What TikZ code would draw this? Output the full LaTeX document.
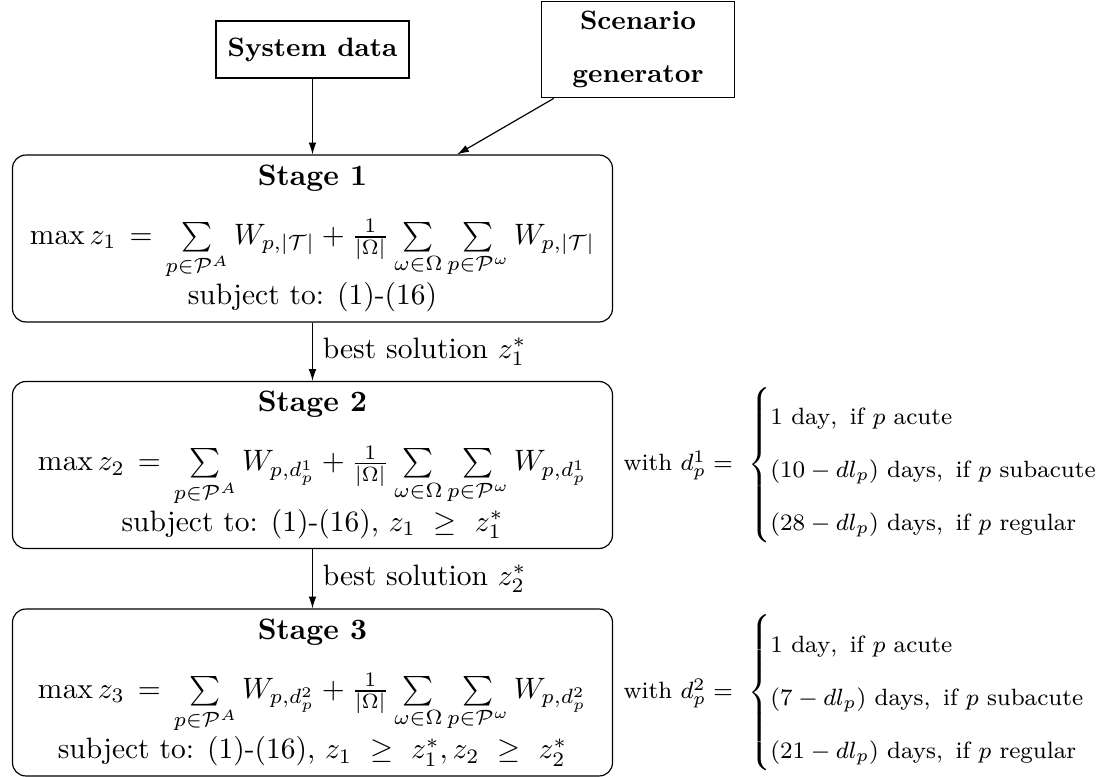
\documentclass[tikz,border=0pt]{standalone}
\usepackage{amsmath,amssymb}
\usetikzlibrary{arrows.meta}
\begin{document}
\begin{tikzpicture}[x=0.339pt,y=-0.339pt,
  topbox/.style={draw, font=\small\bfseries, align=center, minimum width=65.4pt},
  stagebox/.style={draw, rounded corners=4.5pt, align=center, minimum width=203.4pt},
  arr/.style={-{Latex[length=4pt,width=2.6pt]}},
  casenode/.style={right, font=\footnotesize}]
\useasboundingbox (0,0) rectangle (1111,777);
\node[topbox, minimum height=19.3pt] (sys) at (312.5,49.5) {System data};
\node[topbox] (scen) at (638,49.5) {Scenario\\[7pt]generator};
\node[stagebox] (s1) at (312.5,238.5) {\textbf{Stage 1}\\[8pt]
  $\max z_1\,=\,\sum\limits_{p\in\mathcal{P}^A} W_{p,|\mathcal{T}|} + \frac{1}{|\Omega|}\sum\limits_{\omega\in\Omega}\sum\limits_{p\in\mathcal{P}^\omega} W_{p,|\mathcal{T}|}$\\
  subject to: (1)-(16)};
\node[stagebox] (s2) at (312.5,465) {\textbf{Stage 2}\\[8pt]
  $\max z_2\,=\,\sum\limits_{p\in\mathcal{P}^A} W_{p,d_p^1} + \frac{1}{|\Omega|}\sum\limits_{\omega\in\Omega}\sum\limits_{p\in\mathcal{P}^\omega} W_{p,d_p^1}$\\
  subject to: (1)-(16), $z_1\ \geq\ z_1^*$};
\node[stagebox] (s3) at (312.5,692.5) {\textbf{Stage 3}\\[8pt]
  $\max z_3\,=\,\sum\limits_{p\in\mathcal{P}^A} W_{p,d_p^2} + \frac{1}{|\Omega|}\sum\limits_{\omega\in\Omega}\sum\limits_{p\in\mathcal{P}^\omega} W_{p,d_p^2}$\\
  subject to: (1)-(16), $z_1\ \geq\ z_1^*, z_2\ \geq\ z_2^*$};
\node[casenode] (c1) at (s2.east) {with $\delimitershortfall=1pt d_p^1 =\ \begin{cases}
  \rule{0pt}{12pt}1\text{ day},\ \text{if } p\text{ acute}\\[6.6pt]
  (10-dl_p)\text{ days},\ \text{if } p\text{ subacute}\\[6.6pt]
  (28-dl_p)\text{ days},\ \text{if } p\text{ regular}
  \end{cases}$};
\node[casenode] (c2) at (s3.east) {with $\delimitershortfall=1pt d_p^2 =\ \begin{cases}
  \rule{0pt}{12pt}1\text{ day},\ \text{if } p\text{ acute}\\[6.6pt]
  (7-dl_p)\text{ days},\ \text{if } p\text{ subacute}\\[6.6pt]
  (21-dl_p)\text{ days},\ \text{if } p\text{ regular}
  \end{cases}$};
\draw[arr] (sys) -- (s1);
\draw[arr] (scen) -- (s1);
\draw[arr] (s1) -- node[right] {best solution $z_1^*$} (s2);
\draw[arr] (s2) -- node[right] {best solution $z_2^*$} (s3);
\end{tikzpicture}
\end{document}
